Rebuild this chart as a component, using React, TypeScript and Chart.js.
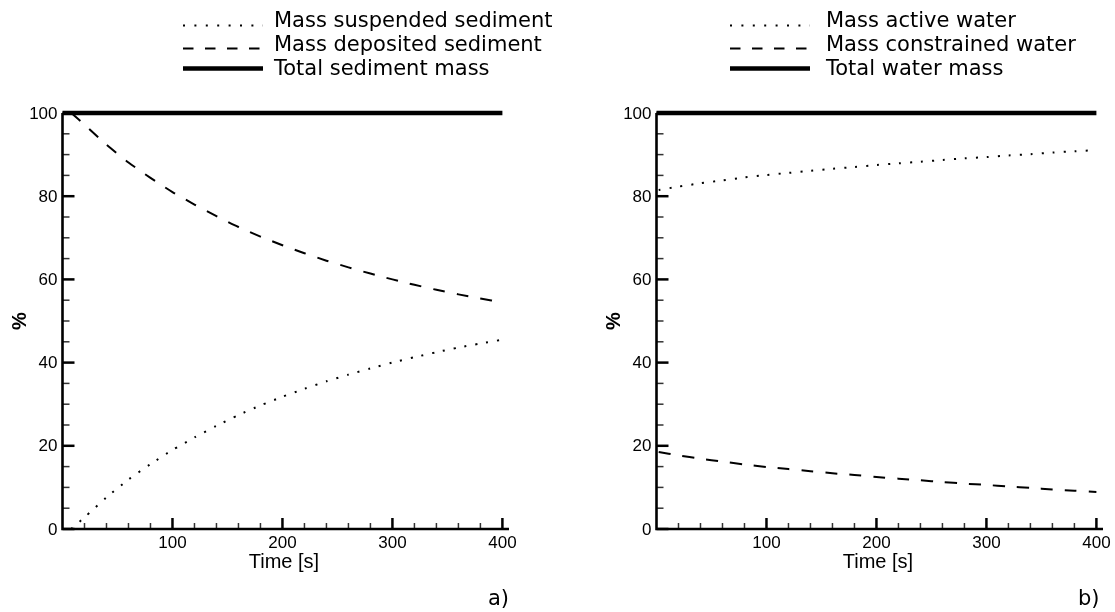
import React, { useEffect, useRef } from "react";
import { Chart, registerables } from "chart.js";

Chart.register(...registerables);

// ---- data ----
const timeA = [8, 20, 40, 60, 80, 100, 120, 140, 160, 180, 200, 220, 240, 260, 280, 300, 320, 340, 360, 380, 400];
const suspended = [0, 2.8, 7.6, 11.9, 15.6, 19.0, 22.0, 24.8, 27.4, 29.7, 31.8, 33.7, 35.5, 37.1, 38.6, 40.0, 41.3, 42.5, 43.6, 44.6, 45.5];
const deposited = [100, 97.2, 92.4, 88.1, 84.4, 81.0, 78.0, 75.2, 72.6, 70.3, 68.2, 66.3, 64.5, 62.9, 61.4, 60.0, 58.7, 57.5, 56.4, 55.4, 54.5];

const timeB = [2, 20, 40, 60, 80, 100, 120, 140, 160, 180, 200, 220, 240, 260, 280, 300, 320, 340, 360, 380, 400];
const activeWater = [81.5, 82.3, 83.1, 83.8, 84.5, 85.1, 85.6, 86.1, 86.6, 87.0, 87.5, 87.9, 88.3, 88.7, 89.1, 89.4, 89.8, 90.1, 90.5, 90.8, 91.1];
const constrainedWater = [18.5, 17.7, 16.9, 16.2, 15.5, 14.9, 14.4, 13.9, 13.4, 13.0, 12.5, 12.1, 11.7, 11.3, 10.9, 10.6, 10.2, 9.9, 9.5, 9.2, 8.9];

const timeTotal = [0, 400];
const totalValues = [100, 100];

const legendA = ["Mass suspended sediment", "Mass deposited sediment", "Total sediment mass"];
const legendB = ["Mass active water", "Mass constrained water", "Total water mass"];

const xMajorTicks = [100, 200, 300, 400];
const xMinorStep = 20;
const yMajorTicks = [0, 20, 40, 60, 80, 100];
const yMinorStep = 5;
const xTitle = "Time [s]";
const yTitle = "%";

// ---- styles ----
const DOT = [2, 9];
const DASH = [12, 12];
const LEG_DOT = [2, 9.4];
const LEG_DASH = [10.5, 11.5];
const TICK_FONT = "17px 'Liberation Sans', Arial, sans-serif";
const TITLE_FONT = "20px 'Liberation Sans', Arial, sans-serif";
const PCT_FONT = "bold 20px 'Liberation Sans', Arial, sans-serif";
const LEG_FONT = "21px 'DejaVu Sans', Verdana, sans-serif";

type PanelCfg = {
  legend: string[];
  legendLineX: [number, number];
  legendTextX: number;
  panelLabel: string;
  panelLabelX: number;
};

function makeDecor(cfg: PanelCfg) {
  return {
    id: "decor",
    afterDraw(chart: any) {
      const ctx = chart.ctx as CanvasRenderingContext2D;
      const xs = chart.scales.x;
      const ys = chart.scales.y;
      const { left, right, top, bottom } = chart.chartArea;
      ctx.save();
      ctx.strokeStyle = "#000";
      ctx.fillStyle = "#000";
      ctx.lineCap = "butt";

      // minor ticks
      ctx.lineWidth = 1.5;
      ctx.strokeStyle = "#333";
      for (let v = xMinorStep; v <= xs.max; v += xMinorStep) {
        if (xMajorTicks.includes(v)) continue;
        const px = xs.getPixelForValue(v);
        ctx.beginPath();
        ctx.moveTo(px, bottom);
        ctx.lineTo(px, bottom - 6);
        ctx.stroke();
      }
      for (let v = yMinorStep; v < ys.max; v += yMinorStep) {
        if (yMajorTicks.includes(v)) continue;
        const py = ys.getPixelForValue(v);
        ctx.beginPath();
        ctx.moveTo(left, py);
        ctx.lineTo(left + 7, py);
        ctx.stroke();
      }
      // major ticks
      ctx.strokeStyle = "#000";
      ctx.lineWidth = 2.5;
      xMajorTicks.forEach((v) => {
        const px = xs.getPixelForValue(v);
        ctx.beginPath();
        ctx.moveTo(px, bottom);
        ctx.lineTo(px, bottom - 11);
        ctx.stroke();
      });
      yMajorTicks.forEach((v) => {
        const py = ys.getPixelForValue(v);
        ctx.beginPath();
        ctx.moveTo(left, py);
        ctx.lineTo(left + 12, py);
        ctx.stroke();
      });
      // axis lines
      ctx.lineWidth = 2.6;
      ctx.beginPath();
      ctx.moveTo(left, top);
      ctx.lineTo(left, bottom);
      ctx.lineTo(right, bottom);
      ctx.stroke();

      // tick labels
      ctx.font = TICK_FONT;
      ctx.textAlign = "center";
      ctx.textBaseline = "alphabetic";
      xMajorTicks.forEach((v) => {
        ctx.fillText(String(v), xs.getPixelForValue(v), bottom + 19);
      });
      ctx.textAlign = "right";
      ctx.textBaseline = "middle";
      yMajorTicks.forEach((v) => {
        ctx.fillText(String(v), left - 5, ys.getPixelForValue(v) + 1);
      });

      // axis titles
      ctx.font = TITLE_FONT;
      ctx.textAlign = "center";
      ctx.textBaseline = "alphabetic";
      ctx.fillText(xTitle, xs.getPixelForValue(200) + 1.5, bottom + 39);
      ctx.save();
      ctx.font = PCT_FONT;
      ctx.translate(left - 42, ys.getPixelForValue(50) + 0);
      ctx.rotate(-Math.PI / 2);
      ctx.textAlign = "center";
      ctx.textBaseline = "middle";
      ctx.fillText(yTitle, 0, 0);
      ctx.restore();

      // legend
      const rowsLine = [25.5, 48.5, 68.5];
      const rowsText = [26.5, 50.5, 74.5];
      const styles = [
        { dash: LEG_DOT, w: 2 },
        { dash: LEG_DASH, w: 2 },
        { dash: [] as number[], w: 4.5 },
      ];
      ctx.font = LEG_FONT;
      ctx.textAlign = "left";
      ctx.textBaseline = "alphabetic";
      cfg.legend.forEach((label, i) => {
        ctx.lineWidth = styles[i].w;
        ctx.setLineDash(styles[i].dash);
        ctx.beginPath();
        ctx.moveTo(cfg.legendLineX[0], rowsLine[i]);
        ctx.lineTo(cfg.legendLineX[1], rowsLine[i]);
        ctx.stroke();
        ctx.setLineDash([]);
        ctx.fillText(label, cfg.legendTextX, rowsText[i]);
      });

      // panel label
      ctx.fillText(cfg.panelLabel, cfg.panelLabelX, 605);
      ctx.restore();
    },
  };
}

function Panel(props: {
  width: number;
  padLeft: number;
  padRight: number;
  t: number[];
  s1: number[];
  s2: number[];
  labels: string[];
  cfg: PanelCfg;
}) {
  const ref = useRef<HTMLCanvasElement>(null);
  useEffect(() => {
    const el = ref.current;
    if (!el) return;
    const pts = (xs: number[], ys: number[]) => xs.map((x, i) => ({ x, y: ys[i] }));
    const chart = new Chart(el, {
      type: "line",
      data: {
        datasets: [
          {
            label: props.labels[0],
            data: pts(props.t, props.s1),
            borderColor: "#000",
            borderWidth: 2,
            borderDash: DOT,
            pointRadius: 0,
            tension: 0.2,
            clip: false as any,
          },
          {
            label: props.labels[1],
            data: pts(props.t, props.s2),
            borderColor: "#000",
            borderWidth: 2,
            borderDash: DASH,
            pointRadius: 0,
            tension: 0.2,
            clip: false as any,
          },
          {
            label: props.labels[2],
            data: pts(timeTotal, totalValues),
            borderColor: "#000",
            borderWidth: 4.5,
            pointRadius: 0,
            clip: false as any,
          },
        ],
      },
      options: {
        animation: false,
        responsive: false,
        events: [],
        layout: {
          padding: { left: props.padLeft, right: props.padRight, top: 113, bottom: 83 },
        },
        plugins: { legend: { display: false }, tooltip: { enabled: false } },
        scales: {
          x: { type: "linear", min: 0, max: 406, display: false },
          y: { type: "linear", min: 0, max: 100, display: false },
        },
      },
      plugins: [makeDecor(props.cfg)],
    });
    return () => chart.destroy();
  }, []);
  return <canvas ref={ref} width={props.width} height={612} style={{ width: props.width, height: 612, display: "block" }} />;
}

export default function App() {
  return (
    <div style={{ position: "fixed", left: 0, top: 0, width: 1115, height: 612, background: "#fff", display: "flex" }}>
      <Panel
        width={557}
        padLeft={62.5}
        padRight={48}
        t={timeA}
        s1={suspended}
        s2={deposited}
        labels={legendA}
        cfg={{ legend: legendA, legendLineX: [183, 263], legendTextX: 274, panelLabel: "a)", panelLabelX: 488 }}
      />
      <Panel
        width={558}
        padLeft={99.5}
        padRight={12}
        t={timeB}
        s1={activeWater}
        s2={constrainedWater}
        labels={legendB}
        cfg={{ legend: legendB, legendLineX: [173, 253], legendTextX: 269, panelLabel: "b)", panelLabelX: 521 }}
      />
    </div>
  );
}
